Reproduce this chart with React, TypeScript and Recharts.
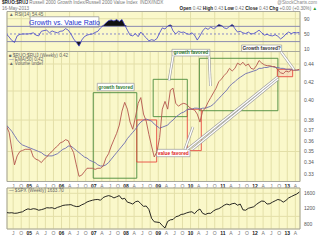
import React from "react";
import {
  Area,
  CartesianGrid,
  ComposedChart,
  Line,
  LineChart,
  ReferenceArea,
  ReferenceLine,
  XAxis,
  YAxis,
} from "recharts";

// months since 1-Apr-2004, one value per month (mid-month)
const ratio = [
  0.374, 0.368, 0.352, 0.338, 0.346, 0.35, 0.351, 0.352, 0.352, 0.352,
  0.345, 0.343, 0.342, 0.34, 0.343, 0.345, 0.348, 0.35, 0.353, 0.355,
  0.358, 0.359, 0.361, 0.36, 0.354, 0.349, 0.338, 0.328, 0.329, 0.332,
  0.335, 0.335, 0.335, 0.334, 0.335, 0.335, 0.337, 0.344, 0.348, 0.355,
  0.361, 0.367, 0.375, 0.389, 0.398, 0.391, 0.378, 0.371, 0.383, 0.397,
  0.403, 0.386, 0.379, 0.366, 0.355, 0.345, 0.35, 0.363, 0.391, 0.399,
  0.391, 0.411, 0.413, 0.397, 0.394, 0.396, 0.397, 0.396, 0.393, 0.391,
  0.39, 0.386, 0.378, 0.389, 0.392, 0.398, 0.403, 0.408, 0.413, 0.42,
  0.423, 0.427, 0.43, 0.435, 0.432, 0.435, 0.441, 0.439, 0.442, 0.438,
  0.44, 0.435, 0.434, 0.438, 0.444, 0.441, 0.439, 0.438, 0.438, 0.437,
  0.437, 0.433, 0.43, 0.429, 0.432, 0.431, 0.433, 0.433, 0.433, 0.434,
];

const ema50 = [
  0.375, 0.372, 0.369, 0.365, 0.361, 0.358, 0.356, 0.355, 0.354, 0.353,
  0.352, 0.351, 0.35, 0.349, 0.347, 0.346, 0.346, 0.346, 0.347, 0.348,
  0.35, 0.352, 0.353, 0.355, 0.355, 0.353, 0.351, 0.349, 0.347, 0.345,
  0.344, 0.342, 0.341, 0.34, 0.338, 0.337, 0.337, 0.338, 0.34, 0.343,
  0.346, 0.349, 0.352, 0.355, 0.358, 0.362, 0.365, 0.368, 0.371, 0.375,
  0.378, 0.38, 0.381, 0.38, 0.379, 0.376, 0.374, 0.372, 0.373, 0.374,
  0.375, 0.378, 0.38, 0.383, 0.385, 0.387, 0.388, 0.39, 0.391, 0.391,
  0.392, 0.392, 0.391, 0.392, 0.392, 0.393, 0.394, 0.396, 0.399, 0.402,
  0.405, 0.408, 0.411, 0.415, 0.418, 0.42, 0.423, 0.425, 0.427, 0.429,
  0.43, 0.431, 0.432, 0.433, 0.435, 0.435, 0.436, 0.436, 0.437, 0.437,
  0.436, 0.436, 0.435, 0.435, 0.434, 0.434, 0.434, 0.433, 0.433, 0.433,
];

const rsi14 = [
  50, 42, 33, 28, 45, 49, 50, 50, 50, 51,
  53, 47, 45, 57, 59, 60, 53, 58, 55, 53,
  57, 58, 64, 60, 50, 37, 28, 18, 34, 43,
  47, 49, 50, 54, 57, 66, 72, 79, 85, 87,
  84, 88, 83, 88, 74, 60, 47, 45, 51, 43,
  55, 47, 40, 32, 35, 33, 38, 53, 66, 63,
  71, 74, 58, 50, 57, 54, 55, 51, 49, 53,
  47, 34, 45, 58, 66, 62, 68, 64, 67, 75,
  72, 66, 64, 70, 75, 64, 55, 57, 53, 51,
  55, 50, 51, 55, 60, 53, 47, 49, 46, 45,
  48, 44, 37, 42, 50, 55, 51, 54, 53, 54,
];

const spx = [
  1100, 1090, 1095, 1080, 1085, 1105, 1120, 1165, 1195,
  1180, 1200, 1190, 1160, 1175, 1195, 1225, 1220, 1225, 1200, 1235, 1255,
  1285, 1295, 1300, 1305, 1275, 1255, 1260, 1300, 1330, 1375, 1400, 1420,
  1435, 1440, 1420, 1490, 1520, 1540, 1520, 1480, 1510, 1540, 1450, 1470,
  1370, 1350, 1320, 1380, 1400, 1330, 1260, 1270, 1180, 950, 860, 850,
  840, 760, 700, 870, 910, 920, 990, 1010, 1050, 1060, 1090, 1110,
  1120, 1070, 1150, 1190, 1080, 1050, 1080, 1080, 1140, 1180, 1200, 1240,
  1290, 1320, 1300, 1330, 1340, 1290, 1320, 1170, 1160, 1210, 1230, 1250,
  1310, 1360, 1400, 1390, 1320, 1330, 1370, 1405, 1440, 1420, 1370, 1415,
  1480, 1515, 1550, 1580, 1634,
];

const monthTicks = [
  3, 6, 9, 12, 15, 18, 21, 24, 27, 30, 33, 36, 39, 42, 45, 48, 51, 54,
  57, 60, 63, 66, 69, 72, 75, 78, 81, 84, 87, 90, 93, 96, 99, 102, 105, 108,
];
const monthLabels = [
  "J", "O", "05", "A", "J", "O", "06", "A", "J", "O", "07", "A",
  "J", "O", "08", "A", "J", "O", "09", "A", "J", "O", "10", "A",
  "J", "O", "11", "A", "J", "O", "12", "A", "J", "O", "13", "A",
];
const rsiTicks = [10, 30, 50, 70, 90];
const ratioTicks = [0.33, 0.34, 0.35, 0.36, 0.37, 0.38, 0.39, 0.4, 0.41, 0.42, 0.43, 0.44];
const spxTicks = [800, 1000, 1200, 1400, 1600];

const rows = ratio.map((v, i) => ({
  t: i + 0.5,
  ratio: v,
  ema: ema50[i],
  rsi: rsi14[i],
  rsiHi: Math.max(rsi14[i], 70),
  rsiLo: Math.min(rsi14[i], 30),
  spx: spx[i],
}));

const X_DOMAIN: [number, number] = [0.71, 109.73];
const RATIO_DOMAIN: [number, number] = [0.3236, 0.4546];

const BG = "#FAF8CA";
const GRID = "#E3DFA8";
const FONT = "'Liberation Sans', Arial, sans-serif";

// annotation boxes (months, ratio)
const greenBoxes = [
  [32.8, 49.0, 0.3264, 0.4082],
  [55.1, 67.8, 0.3834, 0.4227],
  [72.3, 101.5, 0.3894, 0.4466],
];
const redBoxes = [
  [49.0, 56.4, 0.3405, 0.3801],
  [67.8, 73.0, 0.3508, 0.3909],
  [101.3, 107.0, 0.4256, 0.4339],
];
const pointers = [
  [62.5, 0.4493, 61.0, 0.4214],
  [75.9, 0.4493, 76.4, 0.4154],
  [102.7, 0.454, 107.5, 0.4337],
  [67.7, 0.3518, 101.4, 0.4253],
  [69.6, 0.3518, 101.6, 0.4231],
  [66.9, 0.352, 69.9, 0.3732],
];
const callouts = [
  { x1: 34.3, x2: 48.0, y1: 0.4103, y2: 0.4183, text: "growth favored", color: "#2f7a2f" },
  { x1: 62.1, x2: 76.2, y1: 0.4493, y2: 0.4572, text: "growth favored", color: "#2f7a2f" },
  { x1: 88.0, x2: 102.9, y1: 0.4544, y2: 0.4624, text: "Growth favored?", color: "#333" },
  { x1: 56.4, x2: 68.8, y1: 0.3453, y2: 0.352, text: "value favored", color: "#e02020" },
];

function MonthTick({ x, y, payload }: any) {
  const label = monthLabels[monthTicks.indexOf(payload.value)] ?? "";
  const isYear = /\d/.test(label);
  return (
    <text
      x={x}
      y={y}
      dy={4}
      textAnchor="middle"
      fontSize={5}
      fontFamily={FONT}
      fontWeight={isYear ? 700 : 400}
      fill={isYear ? "#222" : "#777"}
    >
      {label}
    </text>
  );
}

const rightTick = { fontSize: 5, fill: "#555", fontFamily: FONT };

function Txt({ top, left, right, children, size = 4.6, color = "#666" }: any) {
  return (
    <div
      style={{
        position: "absolute",
        top,
        left,
        right,
        fontSize: size,
        lineHeight: 1,
        color,
        whiteSpace: "nowrap",
        fontFamily: FONT,
      }}
    >
      {children}
    </div>
  );
}

export default function App() {
  return (
    <div
      style={{
        position: "absolute",
        left: 0,
        top: 0,
        width: 320,
        height: 240,
        background: "#fff",
        overflow: "hidden",
      }}
    >
      {/* RSI panel */}
      <div style={{ position: "absolute", left: 0, top: 0 }}>
        <ComposedChart
          width={320}
          height={52}
          data={rows}
          margin={{ top: 11.5, right: 0, bottom: 0.5, left: 7 }}
        >
          <CartesianGrid fill={BG} stroke={GRID} />
          <XAxis
            type="number"
            dataKey="t"
            domain={X_DOMAIN}
            ticks={monthTicks}
            allowDataOverflow
            hide
          />
          <YAxis
            orientation="right"
            width={20}
            domain={[4, 109]}
            ticks={rsiTicks}
            allowDataOverflow
            axisLine={false}
            tickLine={false}
            tickSize={0}
            tickMargin={4}
            tick={rightTick}
          />
          <ReferenceLine y={70} stroke="#8a8ab0" />
          <ReferenceLine y={30} stroke="#8a8ab0" />
          <ReferenceLine y={50} stroke="#8a8ac8" strokeDasharray="2 2" />
          <Area
            dataKey="rsiHi"
            baseValue={70}
            stroke="none"
            fill="#111"
            fillOpacity={1}
            isAnimationActive={false}
          />
          <Area
            dataKey="rsiLo"
            baseValue={30}
            stroke="none"
            fill="#111"
            fillOpacity={1}
            isAnimationActive={false}
          />
          <Line
            dataKey="rsi"
            stroke="#4040cc"
            strokeWidth={0.8}
            dot={false}
            isAnimationActive={false}
          />
          <ReferenceArea
            x1={X_DOMAIN[0]}
            x2={X_DOMAIN[1]}
            y1={4}
            y2={109}
            fill="none"
            stroke="#999"
            strokeWidth={0.8}
          />
          <ReferenceArea
            x1={9.3}
            x2={34.9}
            y1={67.5}
            y2={95.2}
            fill="#fff"
            fillOpacity={1}
            stroke="#999"
            strokeWidth={0.8}
            ifOverflow="visible"
            label={{
              value: "Growth vs. Value Ratio",
              position: "center",
              fontSize: 7,
              fill: "#2233cc",
              fontFamily: FONT,
            }}
          />
        </ComposedChart>
      </div>

      {/* main ratio panel */}
      <div style={{ position: "absolute", left: 0, top: 40 }}>
        <LineChart
          width={320}
          height={150}
          data={rows}
          margin={{ top: 11.5, right: 0, bottom: 0.5, left: 7 }}
        >
          <CartesianGrid fill={BG} stroke={GRID} />
          <XAxis
            type="number"
            dataKey="t"
            domain={X_DOMAIN}
            ticks={monthTicks}
            allowDataOverflow
            height={8}
            axisLine={false}
            tickLine={false}
            tickSize={0}
            tickMargin={2}
            tick={<MonthTick />}
            interval={0}
          />
          <YAxis
            orientation="right"
            width={20}
            scale="log"
            domain={RATIO_DOMAIN}
            ticks={ratioTicks}
            allowDataOverflow
            axisLine={false}
            tickLine={false}
            tickSize={0}
            tickMargin={4}
            tick={rightTick}
            tickFormatter={(v: number) => v.toFixed(2)}
          />
          <Line
            dataKey="ema"
            stroke="#6c6cb0"
            strokeWidth={0.9}
            dot={false}
            isAnimationActive={false}
          />
          <Line
            dataKey="ratio"
            stroke="#b4564e"
            strokeWidth={0.9}
            dot={false}
            isAnimationActive={false}
          />
          {greenBoxes.map(([x1, x2, y1, y2], i) => (
            <ReferenceArea
              key={`g${i}`}
              x1={x1}
              x2={x2}
              y1={y1}
              y2={y2}
              fill="none"
              stroke="#4a8a3a"
              strokeWidth={0.9}
              ifOverflow="visible"
            />
          ))}
          {redBoxes.map(([x1, x2, y1, y2], i) => (
            <ReferenceArea
              key={`r${i}`}
              x1={x1}
              x2={x2}
              y1={y1}
              y2={y2}
              fill={i === 2 ? "#f7b8b0" : "none"}
              fillOpacity={0.35}
              stroke="#e84a40"
              strokeWidth={0.9}
              ifOverflow="visible"
            />
          ))}
          {pointers.map(([ax, ay, bx, by], i) => (
            <ReferenceLine
              key={`pg${i}`}
              segment={[
                { x: ax, y: ay },
                { x: bx, y: by },
              ]}
              stroke="#9a9a9a"
              strokeWidth={2.6}
              ifOverflow="visible"
            />
          ))}
          {pointers.map(([ax, ay, bx, by], i) => (
            <ReferenceLine
              key={`pw${i}`}
              segment={[
                { x: ax, y: ay },
                { x: bx, y: by },
              ]}
              stroke="#fff"
              strokeWidth={1.4}
              ifOverflow="visible"
            />
          ))}
          {callouts.map((c, i) => (
            <ReferenceArea
              key={`c${i}`}
              x1={c.x1}
              x2={c.x2}
              y1={c.y1}
              y2={c.y2}
              fill="#fff"
              fillOpacity={1}
              stroke="#999"
              strokeWidth={0.7}
              ifOverflow="visible"
              label={{
                value: c.text,
                position: "center",
                fontSize: 4.8,
                fontWeight: 700,
                fill: c.color,
                fontFamily: FONT,
              }}
            />
          ))}
          <ReferenceArea
            x1={X_DOMAIN[0]}
            x2={X_DOMAIN[1]}
            y1={RATIO_DOMAIN[0]}
            y2={RATIO_DOMAIN[1]}
            fill="none"
            stroke="#999"
            strokeWidth={0.8}
          />
        </LineChart>
      </div>

      {/* S&P 500 panel */}
      <div style={{ position: "absolute", left: 0, top: 180 }}>
        <LineChart
          width={320}
          height={57}
          data={rows}
          margin={{ top: 8, right: 0, bottom: 0, left: 7 }}
        >
          <CartesianGrid fill={BG} stroke={GRID} />
          <XAxis
            type="number"
            dataKey="t"
            domain={X_DOMAIN}
            ticks={monthTicks}
            allowDataOverflow
            height={8}
            axisLine={false}
            tickLine={false}
            tickSize={0}
            tickMargin={2}
            tick={<MonthTick />}
            interval={0}
          />
          <YAxis
            orientation="right"
            width={20}
            domain={[672, 1738]}
            ticks={spxTicks}
            allowDataOverflow
            axisLine={false}
            tickLine={false}
            tickSize={0}
            tickMargin={4}
            tick={rightTick}
          />
          <Line
            dataKey="spx"
            stroke="#111"
            strokeWidth={0.9}
            dot={false}
            isAnimationActive={false}
          />
          <ReferenceArea
            x1={X_DOMAIN[0]}
            x2={X_DOMAIN[1]}
            y1={672}
            y2={1738}
            fill="none"
            stroke="#999"
            strokeWidth={0.8}
          />
        </LineChart>
      </div>

      {/* header */}
      <Txt top={1} left={2} color="#777">
        <b style={{ color: "#222" }}>$RUO:$RUJ</b> Russell 2000 Growth Index/Russell 2000 Value Index
        &nbsp;INDX/INDX
      </Txt>
      <Txt top={1} right={3} color="#888">@StockCharts.com</Txt>
      <Txt top={6.5} left={2} color="#777">16-May-2013</Txt>
      <Txt top={6.5} right={3} color="#777">
        <b style={{ color: "#222" }}>Open</b> 0.42 <b style={{ color: "#222" }}>High</b> 0.43{" "}
        <b style={{ color: "#222" }}>Low</b> 0.42 <b style={{ color: "#222" }}>Close</b> 0.43{" "}
        <b style={{ color: "#222" }}>Chg</b> +0.00 (+0.30%) <span style={{ color: "#2a9a2a" }}>▲</span>
      </Txt>

      {/* panel legends */}
      <Txt top={12.5} left={9}>▲ RSI(14) 54.45</Txt>
      <Txt top={53.5} left={9}>■ $RUO:$RUJ (Weekly) 0.42</Txt>
      <Txt top={57.8} left={9}>
        <span style={{ color: "#6c6cb0" }}>—</span> EMA(50) 0.42
      </Txt>
      <Txt top={62} left={9}>▲ Volume undef</Txt>
      <Txt top={189.2} left={9}>— $SPX (Weekly) 1633.70</Txt>
    </div>
  );
}
